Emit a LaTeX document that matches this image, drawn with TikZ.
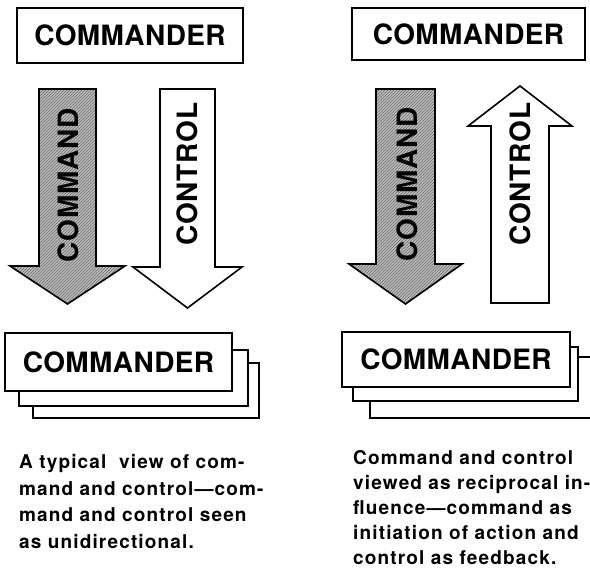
\documentclass[tikz,border=0pt]{standalone}
\usepackage{fontspec}
\setmainfont{TeX Gyre Heros}
\usetikzlibrary{patterns}

\begin{document}
\begin{tikzpicture}[x=1pt,y=-1pt]
    \tikzstyle{box}=[draw,line width=1.6pt,fill=white,inner sep=0pt,font=\fontsize{28}{30}\selectfont\bfseries\addfontfeatures{LetterSpace=1.5}]
    \tikzstyle{shaded}=[draw,line width=1.6pt,preaction={fill=black!25},pattern=north east lines,pattern color=black!60]
    \tikzstyle{hollow}=[draw,line width=1.6pt,fill=white]
    \tikzstyle{lbl}=[rotate=90,inner sep=0pt,font=\fontsize{28}{30}\selectfont\bfseries\addfontfeatures{LetterSpace=3}]
    \tikzstyle{caption}=[anchor=base west,align=left,inner sep=0pt,font=\fontsize{19}{26.5}\selectfont\bfseries\addfontfeatures{LetterSpace=6}]
    \useasboundingbox (0,0) rectangle (590,568);
    \clip (0,0) rectangle (590,568);
    \node[box,minimum width=226pt,minimum height=55pt] (topL) at (130,35.5) {COMMANDER};
    \node[box,minimum width=233pt,minimum height=52pt] (topR) at (468.5,34) {COMMANDER};
    \draw[shaded] (39,89) -- (96,89) -- (96,266) -- (125,266) -- (67.5,304) -- (10,266) -- (39,266) -- cycle;
    \draw[hollow] (160,89) -- (215,89) -- (215,267) -- (242,267) -- (187.5,308) -- (133,267) -- (160,267) -- cycle;
    \draw[shaded] (376,89) -- (435,89) -- (435,264) -- (462,264) -- (405.5,304) -- (349,264) -- (376,264) -- cycle;
    \draw[hollow] (491,303) -- (549,303) -- (549,126) -- (572,126) -- (520,86) -- (468,126) -- (491,126) -- cycle;
    \node[lbl] (cmdL) at (68,185) {COMMAND};
    \node[lbl] (ctlL) at (187.5,174) {CONTROL};
    \node[lbl] (cmdR) at (407,184) {COMMAND};
    \node[lbl] (ctlR) at (520,174) {CONTROL};
    \draw[hollow] (33,363) rectangle (259,418);
    \draw[hollow] (19,350) rectangle (248,406);
    \node[box,minimum width=227pt,minimum height=58pt] (botL) at (118.5,362) {COMMANDER};
    \draw[hollow] (370,357) rectangle (600,418);
    \draw[hollow] (353,347) rectangle (578,401);
    \node[box,minimum width=228pt,minimum height=55pt] (botR) at (456,359.5) {COMMANDER};
    \node[caption] (capL) at (19,548) {A typical\ \ view of com-\\mand and control—com-\\mand and control seen\\as unidirectional.};
    \node[caption,font=\fontsize{19}{25}\selectfont\bfseries\addfontfeatures{LetterSpace=6}] (capR) at (353,564) {Command and control\\viewed as reciprocal in-\\fluence—command as\\initiation of action and\\control as feedback.};
\end{tikzpicture}
\end{document}
